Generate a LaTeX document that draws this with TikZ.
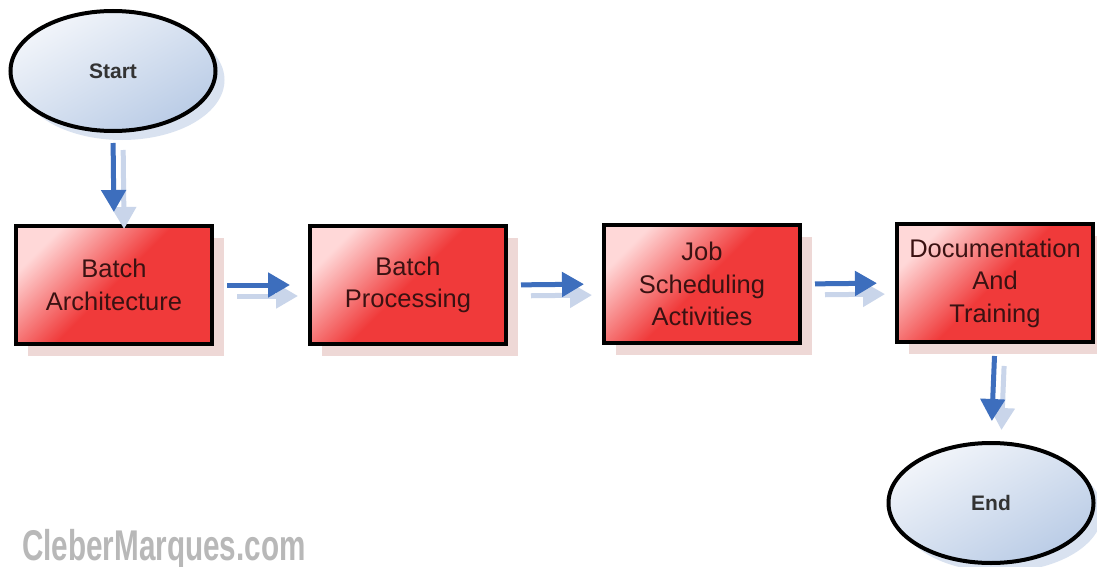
\documentclass[tikz,border=0pt]{standalone}
\usepackage{fontspec}
\setmainfont{Liberation Sans}
\usetikzlibrary{arrows.meta,shadows,shapes.geometric}
\definecolor{arrblue}{HTML}{3D6EBD}
\definecolor{arrshad}{HTML}{C9D5EA}
\definecolor{boxred}{HTML}{F03A3A}
\definecolor{boxlight}{HTML}{FFD8D8}
\definecolor{boxshad}{HTML}{EED8D6}
\definecolor{ellblue}{HTML}{BACCE6}
\definecolor{elllight}{HTML}{F2F5FA}
\definecolor{ellshad}{HTML}{D9E2F0}
\definecolor{boxtext}{HTML}{3A1212}
\definecolor{marktext}{HTML}{B8B8B8}
\tikzset{
  stepbox/.style={draw=black, line width=4pt, minimum width=196pt, minimum height=118pt,
    inner sep=2pt, align=center, text=boxtext, font=\fontsize{25.5}{32.5}\selectfont,
    top color=boxlight, bottom color=boxred, middle color=boxred, shading angle=45,
    drop shadow={shadow xshift=12pt, shadow yshift=-12pt, fill=boxshad, opacity=1}},
  term/.style={ellipse, draw=black, line width=4pt, minimum width=205pt, minimum height=120pt,
    inner sep=0pt, font=\bfseries\fontsize{21}{24}\selectfont, text=black!80,
    top color=elllight, bottom color=ellblue, shading angle=30,
    drop shadow={shadow xshift=9pt, shadow yshift=-9pt, fill=ellshad, opacity=1}},
  arr/.style={draw=arrblue, line width=5pt, -{Triangle[length=22pt,width=24pt]}},
  arrsh/.style={draw=arrshad, line width=5pt, -{Triangle[length=22pt,width=24pt]}},
}
\begin{document}
\begin{tikzpicture}[x=1pt,y=-1pt]
\useasboundingbox[fill=white] (0,0) rectangle (1097,567);
\node[term] (start) at (113,71) {Start};
\node[stepbox] (ba) at (114,285) {Batch\\Architecture};
\node[stepbox] (bp) at (408,285) {Batch\\Processing};
\node[stepbox] (js) at (702,284) {Job\\Scheduling\\Activities};
\node[stepbox] (dt) at (995,283) {Documentation\\And\\Training};
\node[term] (end) at (991,503) {End};
\node[font=\bfseries\fontsize{43}{43}\selectfont, text=marktext, xscale=0.69, inner sep=0pt, anchor=west] (mark) at (22,549) {CleberMarques.com};
% arrow shadows
\draw[arrsh, shorten <=17pt, shorten >=-5pt] ([xshift=10pt]start.south) -- ([xshift=10pt]ba.north);
\draw[arrsh, shorten <=23pt, shorten >=10pt] ([yshift=-11pt]ba.east) -- ([yshift=-11pt]bp.west);
\draw[arrsh, shorten <=23pt, shorten >=10pt] ([yshift=-11pt]bp.east) -- ([yshift=-11pt]js.west);
\draw[arrsh, shorten <=23pt, shorten >=10pt] ([yshift=-11pt]js.east) -- ([yshift=-11pt]dt.west);
\draw[arrsh, shorten <=22pt, shorten >=11pt] ([xshift=10pt]dt.south) -- ([xshift=10pt]end.north);
% arrows
\draw[arr, shorten <=10pt, shorten >=12pt] (start.south) -- (ba.north);
\draw[arr, shorten <=13pt, shorten >=18pt] (ba.east) -- (bp.west);
\draw[arr, shorten <=13pt, shorten >=18pt] (bp.east) -- (js.west);
\draw[arr, shorten <=13pt, shorten >=18pt] (js.east) -- (dt.west);
\draw[arr, shorten <=12pt, shorten >=20pt] (dt.south) -- (end.north);
\end{tikzpicture}
\end{document}
